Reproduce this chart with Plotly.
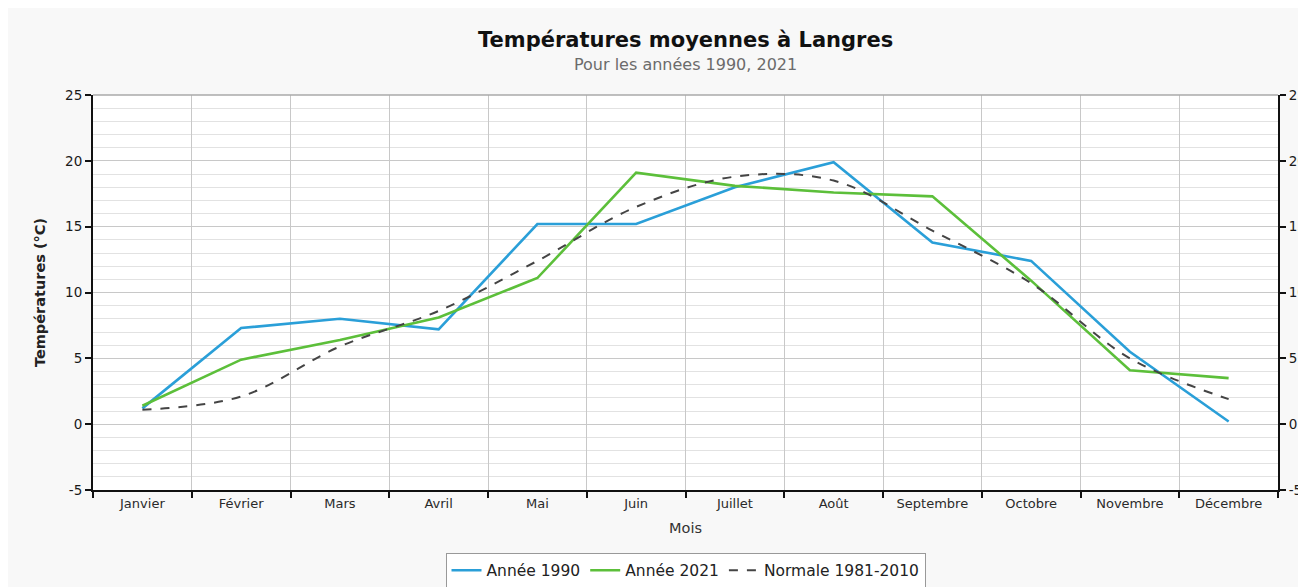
import plotly.graph_objects as go

mois = ["Janvier", "Février", "Mars", "Avril", "Mai", "Juin", "Juillet",
        "Août", "Septembre", "Octobre", "Novembre", "Décembre"]
annee_1990 = [1.2, 7.3, 8.0, 7.2, 15.2, 15.2, 18.0, 19.9, 13.8, 12.4, 5.5, 0.2]
annee_2021 = [1.4, 4.9, 6.4, 8.1, 11.1, 19.1, 18.1, 17.6, 17.3, 10.9, 4.1, 3.5]
normale = [1.1, 2.1, 5.9, 8.6, 12.4, 16.5, 18.8, 18.5, 14.7, 10.7, 5.0, 1.9]
y_ticks = [-5, 0, 5, 10, 15, 20, 25]
y_tick_labels = ["-5", "0", "5", "10", "15", "20", "25"]

FONT = "DejaVu Sans"

fig = go.Figure()
fig.add_trace(go.Scatter(x=mois, y=annee_1990, name="Année 1990", mode="lines",
                         line=dict(color="#2a9fd8", width=2.6)))
fig.add_trace(go.Scatter(x=mois, y=annee_2021, name="Année 2021", mode="lines",
                         line=dict(color="#5cbf3a", width=2.6)))
fig.add_trace(go.Scatter(x=mois, y=normale, name="Normale 1981-2010", mode="lines",
                         line=dict(color="#444444", width=2, dash="dash", shape="spline")))
# invisible trace to drive right axis
fig.add_trace(go.Scatter(x=mois, y=normale, yaxis="y2", mode="lines",
                         line=dict(width=0), opacity=0, showlegend=False, hoverinfo="skip"))

yax = dict(range=[-5, 25], tickmode="array", tickvals=y_ticks, ticktext=y_tick_labels,
           tickfont=dict(family=FONT, size=13.5, color="#1a1a1a"),
           showline=True, linecolor="#111", linewidth=2, ticks="outside", ticklen=6,
           tickcolor="#111", tickwidth=1.5, gridcolor="#c8c8c8", gridwidth=1.3,
           zeroline=False, fixedrange=True, automargin=False)

fig.update_layout(
    width=1306, height=587,
    paper_bgcolor="#f8f8f8", plot_bgcolor="#ffffff",
    margin=dict(l=85, r=36, t=87, b=105, autoexpand=False),
    xaxis=dict(type="category", range=[-0.5, 11.5], tickson="boundaries", ticks="outside", ticklen=6,
               tickcolor="#111", tickwidth=1.5, showline=True, linecolor="#111", linewidth=2,
               showgrid=True, gridcolor="#c8c8c8", gridwidth=1.3, automargin=False,
               tickfont=dict(family=FONT, size=13, color="#2a2a2a"),
               title=dict(text="Mois", font=dict(family=FONT, size=14.5, color="#333"), standoff=13)),
    yaxis=dict(**yax, side="left",
               title=dict(text="<b>Températures (°C)</b>", font=dict(family=FONT, size=14.5, color="#222"),
                          standoff=16),
               minor=dict(dtick=1, showgrid=True, gridcolor="#e2e2e2", gridwidth=1)),
    yaxis2=dict(**yax, side="right", overlaying="y", showgrid=False, matches="y"),
    legend=dict(orientation="h", x=0.5, xanchor="center", yref="container", y=0.072, yanchor="top",
                bgcolor="#ffffff", bordercolor="#999999", borderwidth=1,
                font=dict(family=FONT, size=15.5, color="#222"), itemwidth=30,
                tracegroupgap=0),
    showlegend=True,
    annotations=[
        dict(text="<b>Températures moyennes à Langres</b>", xref="paper", yref="paper",
             x=0.5, y=1.139, xanchor="center", yanchor="middle", showarrow=False,
             font=dict(family=FONT, size=21, color="#111")),
        dict(text="Pour les années 1990, 2021", xref="paper", yref="paper",
             x=0.5, y=1.076, xanchor="center", yanchor="middle", showarrow=False,
             font=dict(family=FONT, size=16, color="#6b6b6b")),
    ],
)

fig.add_shape(type="line", xref="paper", yref="paper", x0=0, x1=1, y0=1, y1=1,
              line=dict(color="#aaaaaa", width=1.5))

fig.write_html("out.html")
